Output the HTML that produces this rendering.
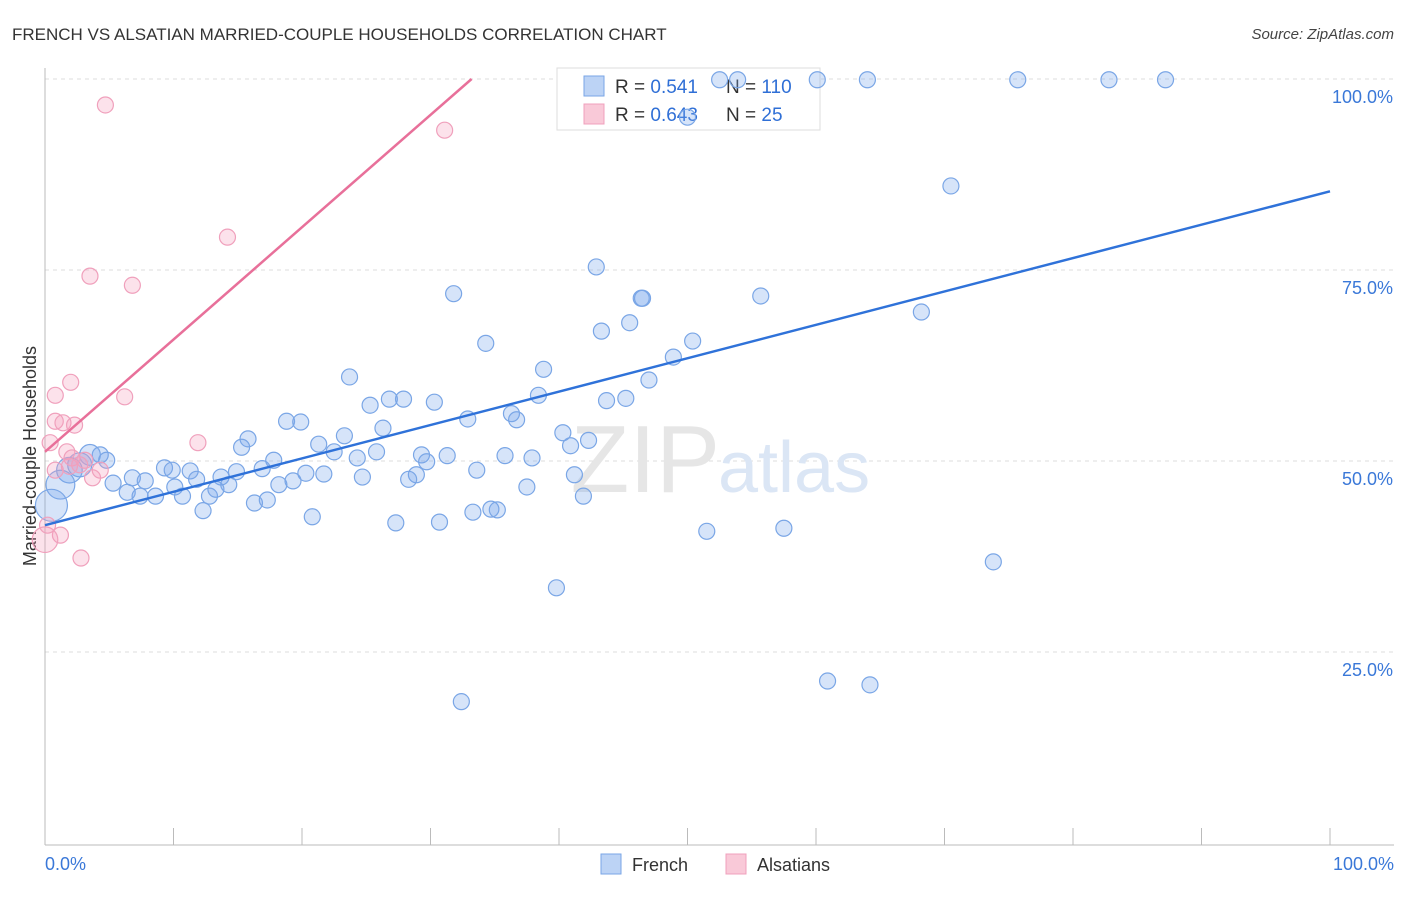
<!DOCTYPE html>
<html><head><meta charset="utf-8"><style>
body{margin:0;background:#fff;font-family:"Liberation Sans",sans-serif;}
svg text{font-family:"Liberation Sans",sans-serif;}
</style></head><body>
<svg id="chart" width="1406" height="892">
<text x="12" y="40" font-size="17" fill="#333">FRENCH VS ALSATIAN MARRIED-COUPLE HOUSEHOLDS CORRELATION CHART</text>
<text x="1394" y="39" font-size="15" fill="#444" text-anchor="end" font-style="italic">Source: ZipAtlas.com</text>
<text x="36" y="456" font-size="18" fill="#333" text-anchor="middle" transform="rotate(-90 36 456)">Married-couple Households</text>
<g id="grid"></g>
<text x="720" y="492" font-size="96" fill="#e6e6e6" text-anchor="end" font-family="Liberation Serif">ZIP</text>
<text x="718" y="492" font-size="72" fill="#dbe6f5">atlas</text>
<g id="legend">
<rect x="557" y="68" width="263" height="62" fill="#fff" stroke="#ddd"/>
<rect x="584" y="76" width="20" height="20" fill="#bcd3f5" stroke="#7aa6e6"/>
<rect x="584" y="104" width="20" height="20" fill="#f9c9d8" stroke="#f0a0bc"/>
<text x="615" y="93" font-size="19" fill="#333">R = <tspan fill="#2f6fd6"> 0.541</tspan></text>
<text x="726" y="93" font-size="19" fill="#333">N = <tspan fill="#2f6fd6"> 110</tspan></text>
<text x="615" y="121" font-size="19" fill="#333">R = <tspan fill="#2f6fd6">0.643</tspan></text>
<text x="726" y="121" font-size="19" fill="#333">N = <tspan fill="#2f6fd6">  25</tspan></text>
</g>
<g id="marks"></g>
<g>
<rect x="601" y="854" width="20" height="20" fill="#bcd3f5" stroke="#7aa6e6"/>
<text x="632" y="871" font-size="18" fill="#333">French</text>
<rect x="726" y="854" width="20" height="20" fill="#f9c9d8" stroke="#f0a0bc"/>
<text x="757" y="871" font-size="18" fill="#333">Alsatians</text>
</g>
</svg>
<script>
const yTicks=[25,50,75,100];
const yTickLabels=["25.0%","50.0%","75.0%","100.0%"];
const xTickLabels=["0.0%","100.0%"];
const frenchX=[52.5,53.9,60.1,64.0,75.7,82.8,87.2,50.0,70.5,42.9,31.8,46.5,46.4,55.7,68.2,43.3,45.5,34.3,50.4,48.9,38.8,23.7,47.0,38.4,25.3,26.8,27.9,30.3,43.7,45.2,32.9,36.3,36.7,18.8,19.9,26.3,40.3,23.3,15.8,15.3,21.3,40.9,42.3,22.5,25.8,24.3,29.3,31.3,35.8,37.9,29.7,17.8,4.3,4.8,9.3,9.9,11.3,14.9,16.9,20.3,21.7,33.6,41.2,24.7,28.9,28.3,11.8,13.7,5.3,6.8,7.8,10.1,18.2,19.3,6.4,7.4,8.6,10.7,12.8,13.3,14.3,37.5,41.9,16.3,17.3,12.3,20.8,33.3,34.7,35.2,27.3,30.7,51.5,57.5,73.8,39.8,60.9,64.2,32.4,3.5,2.7,1.9,1.2,0.5];
const frenchY=[99.9,99.9,99.9,99.9,99.9,99.9,99.9,95.0,86.0,75.4,71.9,71.3,71.3,71.6,69.5,67.0,68.1,65.4,65.7,63.6,62.0,61.0,60.6,58.6,57.3,58.1,58.1,57.7,57.9,58.2,55.5,56.2,55.4,55.2,55.1,54.3,53.7,53.3,52.9,51.8,52.2,52.0,52.7,51.2,51.2,50.4,50.8,50.7,50.7,50.4,49.9,50.1,50.8,50.1,49.1,48.8,48.7,48.6,49.0,48.4,48.3,48.8,48.2,47.9,48.2,47.6,47.6,47.9,47.1,47.8,47.4,46.6,46.9,47.4,45.9,45.4,45.4,45.4,45.4,46.3,46.9,46.6,45.4,44.5,44.9,43.5,42.7,43.3,43.7,43.6,41.9,42.0,40.8,41.2,36.8,33.4,21.2,20.7,18.5,50.8,49.5,48.8,46.9,44.2];
const frenchSize=[1,1,1,1,1,1,1,1,1,1,1,1,1,1,1,1,1,1,1,1,1,1,1,1,1,1,1,1,1,1,1,1,1,1,1,1,1,1,1,1,1,1,1,1,1,1,1,1,1,1,1,1,1,1,1,1,1,1,1,1,1,1,1,1,1,1,1,1,1,1,1,1,1,1,1,1,1,1,1,1,1,1,1,1,1,1,1,1,1,1,1,1,1,1,1,1,1,1,1,1.3,1.5,1.6,1.8,2];
const alsX=[4.7,31.1,14.2,3.5,6.8,2.0,0.8,6.2,0.8,1.4,2.3,11.9,0.4,1.7,2.1,3.1,2.7,0.8,3.7,1.2,0,2.8,0.2,1.9,4.3];
const alsY=[96.6,93.3,79.3,74.2,73.0,60.3,58.6,58.4,55.2,55.0,54.7,52.4,52.4,51.2,50.4,50.1,49.5,48.8,47.8,40.3,39.7,37.3,41.6,49.3,48.8];
const alsSize=[1,1,1,1,1,1,1,1,1,1,1,1,1,1,1,1,1,1,1,1,1.6,1,1,1,1];
const frenchFit=[41.6,85.3];
const alsFit=[51.2,1.47];
const NS="http://www.w3.org/2000/svg";
const xs=v=>45+12.85*v, ys=v=>843-7.64*v;
function mk(t,a,p){const e=document.createElementNS(NS,t);for(const k in a)e.setAttribute(k,a[k]);p.appendChild(e);return e;}
const grid=document.getElementById('grid'), marks=document.getElementById('marks');
yTicks.forEach((t,i)=>{
 const l=mk('line',{x1:45,x2:1394,y1:ys(t),y2:ys(t),stroke:'#ddd','stroke-dasharray':'4,4'},grid);
 
 
 const tx=mk('text',{x:1393,y:ys(t)+24,'font-size':18,fill:'#3a78d8','text-anchor':'end'},grid);
 tx.textContent=yTickLabels[i];
 
 
});
const ax=mk('line',{x1:45,x2:1394,y1:845,y2:845,stroke:'#bbb'},grid);


const ay=mk('line',{x1:45,x2:45,y1:68,y2:845,stroke:'#bbb'},grid);


for(let i=0;i<=10;i++){const t=mk('line',{x1:xs(i*10),x2:xs(i*10),y1:828,y2:845,stroke:'#bbb'},grid);
 
 }
[[0,'start',45],[100,'end',1394]].forEach((d,i)=>{const t=mk('text',{x:d[2],y:870,'font-size':18,fill:'#3a78d8','text-anchor':d[1]},grid);t.textContent=xTickLabels[i];
 
 });
frenchX.forEach((x,i)=>{const c=mk('circle',{cx:xs(x),cy:ys(frenchY[i]),r:8*frenchSize[i],fill:'rgba(120,165,235,0.3)',stroke:'#7aa6e6','stroke-width':1.2},marks);
 
 });
alsX.forEach((x,i)=>{const c=mk('circle',{cx:xs(x),cy:ys(alsY[i]),r:8*alsSize[i],fill:'rgba(245,160,190,0.3)',stroke:'#f0a0bc','stroke-width':1.2},marks);
 
 });
const fl=mk('line',{x1:xs(0),y1:ys(frenchFit[0]),x2:xs(100),y2:ys(frenchFit[1]),stroke:'#2f72d9','stroke-width':2.5},marks);


const xe=(100-alsFit[0])/alsFit[1];
const al=mk('line',{x1:xs(0),y1:ys(alsFit[0]),x2:xs(xe),y2:ys(100),stroke:'#e8709a','stroke-width':2.5},marks);


</script>
</body></html>
